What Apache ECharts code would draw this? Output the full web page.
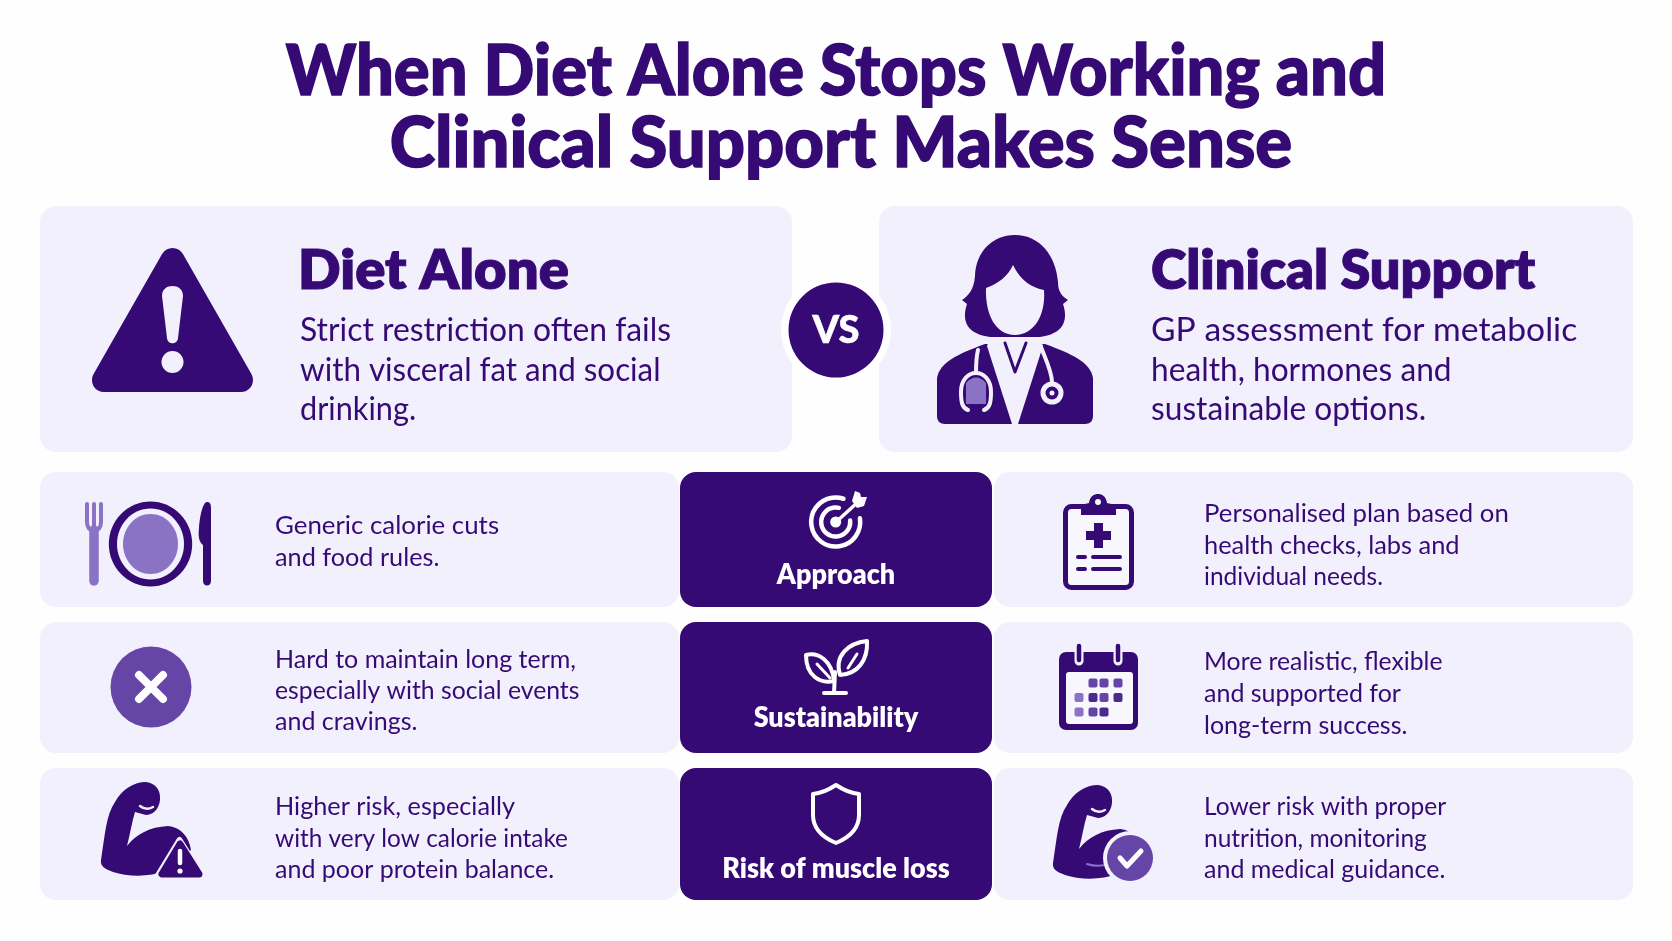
<!DOCTYPE html>
<html>
<head>
<meta charset="utf-8">
<title>When Diet Alone Stops Working</title>
<style>
html,body{margin:0;padding:0;background:#fefeff}
#main{width:1672px;height:941px}
</style>
<script src="https://cdn.jsdelivr.net/npm/echarts@6/dist/echarts.min.js"></script>
</head>
<body>
<div id="main"></div>
<script>
const titleLines = ['When Diet Alone Stops Working and', 'Clinical Support Makes Sense']
const headNames = ['Diet Alone', 'Clinical Support']
const dietNote = ['Strict restriction often fails', 'with visceral fat and social', 'drinking.']
const clinicNote = ['GP assessment for metabolic', 'health, hormones and', 'sustainable options.']
const rowLabels = ['Approach', 'Sustainability', 'Risk of muscle loss']
const dietRows = [
    ['Generic calorie cuts', 'and food rules.'],
    ['Hard to maintain long term,', 'especially with social events', 'and cravings.'],
    ['Higher risk, especially', 'with very low calorie intake', 'and poor protein balance.']
]
const clinicRows = [
    ['Personalised plan based on', 'health checks, labs and', 'individual needs.'],
    ['More realistic, flexible', 'and supported for', 'long-term success.'],
    ['Lower risk with proper', 'nutrition, monitoring', 'and medical guidance.']
]

const DARK = '#360a75'
const MID = '#6546a6'
const LIGHT = '#8a72c4'
const CARD = '#f2f0fd'
const PAPER = '#fefeff'
const FONT = 'Lato, "Noto Sans", sans-serif'

const rowTop = [472, 622, 768]
const rowBottom = [607, 753, 900]
const labelY = [575, 718, 869]
const dietY = [[526, 558], [660, 691, 722], [807, 839, 870]]
const clinicY = [[514, 546, 577], [662, 694, 726], [807, 839, 870]]
const noteY = [330, 370, 409]
// Lato runs a little wider or narrower than the original face, line by line
const dietFit = [0.965, 0.95, 0.93]
const clinicFit = [1.02, 0.96, 0.96]
const dietRowFit = [[1.034, 1.01], [1, 0.99, 1], [1.01, 0.975, 1]]
const clinicRowFit = [[1.03, 1.017, 0.98], [0.99, 1, 1], [0.98, 0.98, 1]]

const g = []

function box(x, y, w, h, r, fill) {
    g.push({type: 'rect', shape: {x, y, width: w, height: h, r}, style: {fill}})
}
function txt(text, x, y, size, weight, fill, align, sx, bold) {
    g.push({type: 'text', x, y, scaleX: sx || 1, style: {text, fontSize: size, fontWeight: weight, fontFamily: FONT, fill, textAlign: align || 'left', textVerticalAlign: 'middle', stroke: bold ? fill : null, lineWidth: bold || 0}})
}
function fillPath(d, fill) {
    g.push({type: 'path', shape: {pathData: d}, style: {fill}})
}
function line(d, stroke, w, fill) {
    g.push({type: 'path', shape: {pathData: d}, style: {fill: fill || 'none', stroke, lineWidth: w, lineCap: 'round', lineJoin: 'round'}})
}
function dot(cx, cy, r, fill) {
    g.push({type: 'circle', shape: {cx, cy, r}, style: {fill}})
}
function oval(cx, cy, rx, ry, fill) {
    g.push({type: 'ellipse', shape: {cx, cy, rx, ry}, style: {fill}})
}
function arm(dx, dy) {
    const m = (x, y) => (x + dx) + ',' + (y + dy)
    fillPath('M' + m(101, 860) + ' C' + m(105, 835) + ' ' + m(106, 815) + ' ' + m(115, 802) +
        ' C' + m(122, 789) + ' ' + m(134, 782) + ' ' + m(146, 782) +
        ' C' + m(156, 783) + ' ' + m(161, 791) + ' ' + m(160, 800) +
        ' C' + m(159, 810) + ' ' + m(152, 815) + ' ' + m(146, 815) +
        ' L' + m(135, 812) + ' C' + m(132, 822) + ' ' + m(130, 834) + ' ' + m(127, 846) +
        ' C' + m(136, 834) + ' ' + m(150, 827) + ' ' + m(168, 826) +
        ' C' + m(180, 827) + ' ' + m(189, 836) + ' ' + m(191, 850) +
        ' L' + m(165, 871) + ' C' + m(150, 877) + ' ' + m(128, 877) + ' ' + m(113, 872) +
        ' C' + m(105, 869) + ' ' + m(100, 866) + ' ' + m(101, 860) + ' Z', DARK)
    line('M' + m(140, 806) + ' Q' + m(146, 811) + ' ' + m(153, 807), CARD, 2.5)
}

// page text
txt(titleLines[0], 836, 72, 70, 900, DARK, 'center', 0.955, 1.5)
txt(titleLines[1], 841, 144, 70, 900, DARK, 'center', 0.982, 1.5)

// top cards
box(40, 206, 752, 246, 16, CARD)
box(879, 206, 754, 246, 16, CARD)
txt(headNames[0], 298, 271, 55, 800, DARK, 'left', 1.02, 1)
txt(headNames[1], 1151, 271, 55, 800, DARK, 'left', 0.98, 1)
dietNote.forEach((s, i) => txt(s, 300, noteY[i], 33, 400, DARK, 'left', dietFit[i]))
clinicNote.forEach((s, i) => txt(s, 1151, noteY[i], 33, 400, DARK, 'left', clinicFit[i]))

// vs badge
dot(836, 330, 55, '#ffffff')
dot(836, 330, 47.5, DARK)
txt('VS', 836, 331, 38, 900, '#ffffff', 'center', 1, 0.6)

// rows
rowLabels.forEach((s, i) => {
    const h = rowBottom[i] - rowTop[i]
    box(40, rowTop[i], 639, h, 16, CARD)
    box(994, rowTop[i], 639, h, 16, CARD)
    box(680, rowTop[i], 312, h, 16, DARK)
    txt(s, 836, labelY[i], 29, 800, '#ffffff', 'center', 0.93)
    dietRows[i].forEach((t, j) => txt(t, 275, dietY[i][j], 25, 400, DARK, 'left', dietRowFit[i][j]))
    clinicRows[i].forEach((t, j) => txt(t, 1204, clinicY[i][j], 25, 400, DARK, 'left', clinicRowFit[i][j]))
})

// warning triangle
g.push({type: 'polygon', shape: {points: [[172.5, 260], [104, 380], [241, 380]]}, style: {fill: DARK, stroke: DARK, lineWidth: 24, lineJoin: 'round'}})
fillPath('M162,296 C162,289 167,286 172.5,286 C178,286 183,289 183,296 L178,338 C177.5,345 167.5,345 167,338 Z', CARD)
dot(172.5, 362, 11, CARD)

// doctor
fillPath('M937,416 L937,378 C940,362 958,354 985,344 L1045,344 C1072,354 1090,362 1093,378 L1093,416 C1093,421 1090,424 1085,424 L945,424 C940,424 937,421 937,416 Z', DARK)
fillPath('M990,338 L1040,338 L1043,346 L1018,424 L1012,424 L987,346 Z', CARD)
fillPath('M1015,235 C1040,235 1056,256 1058,282 C1058,292 1062,296 1068,300 L1063,304 C1069,322 1062,334 1040,337 L990,337 C968,334 961,322 967,304 L962,300 C968,296 974,290 975,276 C976,252 992,235 1015,235 Z', DARK)
fillPath('M1013,265 C1020,280 1032,288 1044,290 C1046,315 1034,335 1015,335 C996,335 985,315 986,288 C998,284 1008,276 1013,265 Z', CARD)
line('M1005,343 L1015,372 L1026,343', DARK, 3)
line('M978,350 C976,358 976,366 976,373', CARD, 4)
fillPath('M966,383 Q976,372 986,383 L986,404 L966,404 Z', LIGHT)
line('M968,410 C962,408 961,402 961,392 C961,380 968,373 976,373 C984,373 991,380 991,392 C991,402 990,408 984,410', CARD, 4)
line('M1041,347 C1046,360 1052,372 1052,382', CARD, 4)
dot(1052, 393, 11.5, CARD)
dot(1052, 393, 6.5, DARK)
dot(1052, 393, 2.5, CARD)

// plate
line('M87,504 L87,522 Q87,530 94,530 Q101,530 101,522 L101,504 M94,504 L94,528', LIGHT, 4)
line('M94,530 L94,581', LIGHT, 9.5)
oval(150.5, 544, 41.7, 42.5, DARK)
oval(150.5, 544, 33.5, 35.5, CARD)
oval(150.5, 544, 27.5, 30, LIGHT)
fillPath('M207,502 C210,502 211,504 211,508 L211,581 C211,587 203,587 203,581 L203,545 C199,542 198,536 199,528 C200,515 203,502 207,502 Z', DARK)

// cross
dot(151, 687, 40.5, MID)
line('M139,675 L163,699 M163,675 L139,699', '#ffffff', 8)

// arm with warning
arm(0, 0)
line('M179.5,840 L157,877 L203,877 Z', CARD, 6, CARD)
line('M180,844 L162,874 L199,874 Z', DARK, 7, DARK)
line('M180,851 L180,863', '#ffffff', 4.5)
dot(180, 871, 2.6, '#ffffff')

// target
const TAU = Math.PI * 2
g.push({type: 'arc', shape: {cx: 835.7, cy: 522, r: 24.5, startAngle: -0.15, endAngle: TAU - 1.25, clockwise: true}, style: {fill: 'none', stroke: '#fff', lineWidth: 4.5, lineCap: 'round'}})
g.push({type: 'arc', shape: {cx: 835.7, cy: 522, r: 14.5, startAngle: -0.1, endAngle: TAU - 1.35, clockwise: true}, style: {fill: 'none', stroke: '#fff', lineWidth: 4.5, lineCap: 'round'}})
dot(835.7, 522, 5.5, '#fff')
line('M836,522 L858,502', '#ffffff', 3.5)
fillPath('M852,501 L855,491 L860,493 L861,497 L867,497 L864,506 L857,508 Z', '#fff')

// sprout
line('M806,655 C818,652 832,660 834,681 C820,684 806,676 806,655 Z', '#ffffff', 4)
line('M817,664 L830,678', '#ffffff', 3)
line('M867,641 C868,660 858,674 840,675 C834,656 848,643 867,641 Z', '#ffffff', 4)
line('M848,668 L857,654', '#ffffff', 3)
line('M834,693 L835,672', '#ffffff', 4)
line('M824,693 L846,693', '#ffffff', 4)

// shield
line('M836,785 Q848,793 859,794 L859,815 C859,830 848,838 836,843 C824,838 813,830 813,815 L813,794 Q824,793 836,785 Z', '#ffffff', 4)

// clipboard
g.push({type: 'rect', shape: {x: 1065.5, y: 506.5, width: 66, height: 81, r: 6}, style: {fill: '#f8f7fe', stroke: DARK, lineWidth: 5}})
fillPath('M1081,515 L1081,510 C1081,505 1084,504 1089,503 C1090,496 1094,494 1098,494 C1102,494 1106,496 1107,503 C1112,504 1116,505 1116,510 L1116,515 Z', DARK)
dot(1098, 502, 3, '#f8f7fe')
line('M1098.5,523 L1098.5,548 M1086,535.5 L1111,535.5', DARK, 9)
g[g.length - 1].style.lineCap = 'butt'
line('M1078,557 L1085,557 M1078,569 L1085,569 M1093,557 L1120,557 M1093,569 L1120,569', DARK, 4)

// calendar
g.push({type: 'rect', shape: {x: 1059, y: 652, width: 79, height: 78, r: 7}, style: {fill: DARK}})
g.push({type: 'rect', shape: {x: 1066, y: 672, width: 67, height: 52, r: 3}, style: {fill: '#f8f7fe'}})
line('M1079,647 L1079,661 M1118,647 L1118,661', CARD, 9)
line('M1079,646 L1079,660 M1118,646 L1118,660', DARK, 4.5)
const calCols = [1079, 1093, 1104, 1118]
const calCells = [[1, 0], [2, 0], [3, 0], [0, 1], [1, 1], [2, 1], [3, 1], [0, 2], [1, 2], [2, 2]]
const calTint = [MID, MID, MID, LIGHT, '#4a2a8c', MID, '#4a2a8c', LIGHT, MID, '#4a2a8c']
calCells.forEach((c, i) => {
    g.push({type: 'rect', shape: {x: calCols[c[0]] - 4.5, y: 679 + c[1] * 14.5 - 0.5, width: 9, height: 9, r: 2}, style: {fill: calTint[i]}})
})

// arm with tick
arm(952, 3)
line('M1087,864 Q1096,867 1105,865', LIGHT, 2)
dot(1130, 858, 27, CARD)
dot(1130, 858, 23, MID)
line('M1120,858 L1127,866 L1141,851', '#ffffff', 5)

const chart = echarts.init(document.getElementById('main'))
chart.setOption({
    backgroundColor: PAPER,
    animation: false,
    series: [{
        type: 'custom',
        coordinateSystem: 'none',
        silent: true,
        data: [0],
        renderItem: () => ({type: 'group', children: g})
    }]
})
</script>
</body>
</html>
